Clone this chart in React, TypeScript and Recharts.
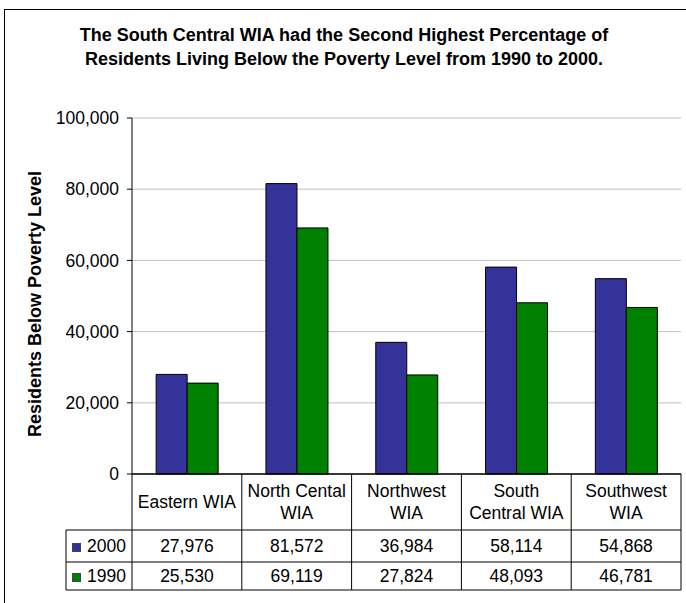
import React from "react";
import { BarChart, Bar, XAxis, YAxis, CartesianGrid } from "recharts";

const FONT = "'Liberation Sans', Arial, sans-serif";
const TEXT_SIZE = 17.5;

// WIA regions, with the way each name wraps inside its table cell
const regions = ["Eastern WIA", "North Cental WIA", "Northwest WIA", "South Central WIA", "Southwest WIA"];
const regionLines = [["Eastern WIA"], ["North Cental", "WIA"], ["Northwest", "WIA"], ["South", "Central WIA"], ["Southwest", "WIA"]];

// residents below poverty level
const poor2000 = [27976, 81572, 36984, 58114, 54868];
const poor1990 = [25530, 69119, 27824, 48093, 46781];

const yTicks = [0, 20000, 40000, 60000, 80000, 100000];

const seriesInfo = [
  { key: "y2000", label: "2000", color: "#333399", values: poor2000 },
  { key: "y1990", label: "1990", color: "#008000", values: poor1990 },
];

const data = regions.map((name, i) => ({
  name,
  y2000: poor2000[i],
  y1990: poor1990[i],
}));

const fmt = (v: number) => v.toLocaleString("en-US");

// table geometry below the axis line
const HEADER_H = 56;
const ROW_H = [32, 28];
const LEGEND_W = 66;

// each x tick draws one column of the data table
const TableTick = (props: any) => {
  const { x, y, payload, width } = props;
  const idx = payload.index ?? props.index;
  const half = payload.offset ?? width / (2 * regions.length);
  const left = x - half;
  const right = x + half;
  const row1 = y + HEADER_H;
  const row2 = row1 + ROW_H[0];
  const bottom = row2 + ROW_H[1];
  const lines = regionLines[idx];
  const mid = y + HEADER_H / 2;
  const last = idx === regions.length - 1;

  return (
    <g fontFamily={FONT} fontSize={TEXT_SIZE} fill="#000">
      <line x1={left} y1={y} x2={left} y2={bottom} stroke="#000" />
      {last && <line x1={right} y1={y} x2={right} y2={bottom} stroke="#000" />}
      <line x1={left} y1={row1} x2={right} y2={row1} stroke="#000" />
      <line x1={left} y1={row2} x2={right} y2={row2} stroke="#000" />
      <line x1={left} y1={bottom} x2={right} y2={bottom} stroke="#000" />
      {lines.map((t: string, k: number) => (
        <text
          key={k}
          x={x}
          y={mid + 6 + (k - (lines.length - 1) / 2) * 22}
          textAnchor="middle"
        >
          {t}
        </text>
      ))}
      {seriesInfo.map((s, r) => (
        <text
          key={s.key}
          x={x}
          y={(r === 0 ? row1 : row2) + ROW_H[r] / 2 + 6}
          textAnchor="middle"
        >
          {fmt(s.values[idx])}
        </text>
      ))}
      {idx === 0 && (
        <g>
          <line x1={left - LEGEND_W} y1={row1} x2={left} y2={row1} stroke="#000" />
          <line x1={left - LEGEND_W} y1={row2} x2={left} y2={row2} stroke="#000" />
          <line x1={left - LEGEND_W} y1={bottom} x2={left} y2={bottom} stroke="#000" />
          <line x1={left - LEGEND_W} y1={row1} x2={left - LEGEND_W} y2={bottom} stroke="#000" />
          {seriesInfo.map((s, r) => {
            const base = (r === 0 ? row1 : row2) + ROW_H[r] / 2 + 6;
            return (
              <g key={s.key}>
                <rect
                  x={left - LEGEND_W + 6.5}
                  y={base - 8.5}
                  width={8}
                  height={8}
                  fill={s.color}
                  stroke="#444"
                />
                <text x={left - LEGEND_W + 21} y={base}>
                  {s.label}
                </text>
              </g>
            );
          })}
        </g>
      )}
    </g>
  );
};

const AxisTitle = (props: any) => {
  const vb = props.viewBox;
  const cx = vb.x + 3;
  const cy = vb.y + vb.height / 2 + 8;
  return (
    <text
      x={cx}
      y={cy}
      transform={`rotate(-90, ${cx}, ${cy})`}
      textAnchor="middle"
      dominantBaseline="central"
      fontFamily={FONT}
      fontSize={18}
      fontWeight="bold"
      fill="#000"
    >
      Residents Below Poverty Level
    </text>
  );
};

export default function App() {
  return (
    <div
      style={{
        position: "relative",
        width: 686,
        height: 603,
        overflow: "hidden",
        background: "#fff",
        fontFamily: FONT,
      }}
    >
      <style>{"body{margin:0}"}</style>
      <div
        style={{
          position: "absolute",
          left: 4,
          top: 9,
          width: 720,
          height: 720,
          border: "1px solid #000",
        }}
      />
      <div
        style={{
          position: "absolute",
          left: 4,
          width: 680,
          top: 23,
          textAlign: "center",
          fontSize: 18,
          lineHeight: "24px",
          fontWeight: "bold",
          color: "#000",
        }}
      >
        The South Central WIA had the Second Highest Percentage of
        <br />
        Residents Living Below the Poverty Level from 1990 to 2000.
      </div>
      <div style={{ position: "absolute", left: 0, top: 0 }}>
        <BarChart
          width={686}
          height={603}
          data={data}
          margin={{ top: 118, right: 5, bottom: 13, left: 32 }}
          barGap={0}
          barCategoryGap="22%"
        >
          <CartesianGrid vertical={false} stroke="#c0c0c0" />
          <XAxis
            dataKey="name"
            height={116}
            interval={0}
            tickLine={false}
            tickSize={0}
            tickMargin={0}
            axisLine={{ stroke: "#000", strokeWidth: 1.5 }}
            tick={<TableTick />}
          />
          <YAxis
            width={100}
            domain={[0, 100000]}
            ticks={yTicks}
            tickFormatter={fmt}
            tickSize={5}
            tickMargin={8}
            axisLine={{ stroke: "#000" }}
            tickLine={{ stroke: "#000" }}
            tick={{ fill: "#000", fontSize: TEXT_SIZE, fontFamily: FONT }}
            label={{ content: <AxisTitle /> }}
          />
          {seriesInfo.map((s) => (
            <Bar
              key={s.key}
              dataKey={s.key}
              name={s.label}
              fill={s.color}
              stroke="#000"
              strokeWidth={1}
              isAnimationActive={false}
            />
          ))}
        </BarChart>
      </div>
    </div>
  );
}
